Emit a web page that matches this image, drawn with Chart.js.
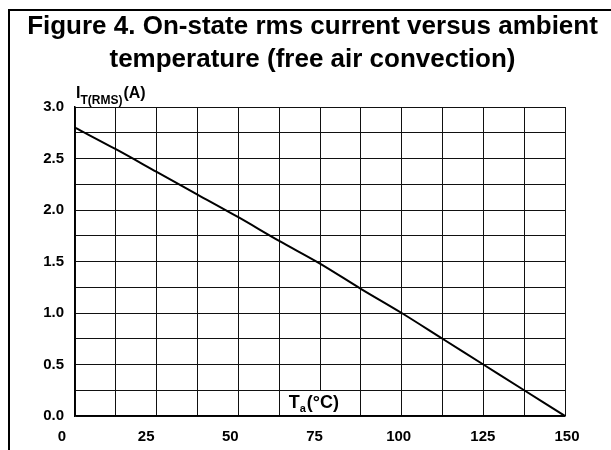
<!DOCTYPE html>
<html>
<head>
<meta charset="utf-8">
<script src="https://cdn.jsdelivr.net/npm/chart.js@4/dist/chart.umd.min.js"></script>
<style>
  html, body { margin: 0; padding: 0; background: #fff; }
  #wrap { width: 611px; height: 450px; }
</style>
</head>
<body>
<div id="wrap"><canvas id="chart" width="611" height="450"></canvas></div>
<script>
// values
const temps = [0, 12.5, 25, 37.5, 50, 62.5, 75, 87.5, 100, 112.5, 125, 137.5, 150];
const currents = [2.80, 2.59, 2.37, 2.15, 1.93, 1.70, 1.48, 1.235, 1.0, 0.75, 0.5, 0.25, 0.0];
const xTickLabels = [0, 25, 50, 75, 100, 125, 150];
const yTickLabels = [0, 0.5, 1.0, 1.5, 2.0, 2.5, 3.0];
const titleLines = ['Figure 4. On-state rms current versus ambient', 'temperature (free air convection)'];

const FONT = "'Liberation Sans', Arial, sans-serif";

// frame + axis titles (with subscripts)
const decorations = {
    id: 'decorations',
    afterDraw(chart) {
        const ctx = chart.ctx;
        const area = chart.chartArea;
        ctx.save();

        // frame (top and left only)
        ctx.strokeStyle = '#000';
        ctx.lineWidth = 2;
        ctx.beginPath();
        ctx.moveTo(9, 450);
        ctx.lineTo(9, 10);
        ctx.lineTo(611, 10);
        ctx.stroke();

        ctx.fillStyle = '#000';
        ctx.textBaseline = 'alphabetic';
        ctx.textAlign = 'left';

        // I_T(RMS)(A)
        let x = area.left + 1;
        let base = area.top - 9;
        ctx.font = `bold 16px ${FONT}`;
        ctx.fillText('I', x, base);
        x += ctx.measureText('I').width;
        ctx.font = `bold 12px ${FONT}`;
        ctx.fillText('T(RMS)', x, base + 6);
        x += ctx.measureText('T(RMS)').width + 1;
        ctx.font = `bold 16px ${FONT}`;
        ctx.fillText('(A)', x, base);

        // T_a(°C) on a white box
        const bx = chart.scales.x.getPixelForValue(64.5);
        const by = area.bottom - 25;
        ctx.fillStyle = '#fff';
        ctx.fillRect(bx, by, 56, 24);
        ctx.fillStyle = '#000';
        let tx = bx + 3;
        const tb = area.bottom - 8;
        ctx.font = `bold 18px ${FONT}`;
        ctx.fillText('T', tx, tb);
        tx += ctx.measureText('T').width;
        ctx.font = `bold 11px ${FONT}`;
        ctx.fillText('a', tx, tb + 4);
        tx += ctx.measureText('a').width + 1;
        ctx.font = `bold 18px ${FONT}`;
        ctx.fillText('(°C)', tx, tb);

        ctx.restore();
    }
};

new Chart(document.getElementById('chart'), {
    type: 'line',
    data: {
        datasets: [{
            data: temps.map((t, i) => ({ x: t, y: currents[i] })),
            borderColor: '#000',
            borderWidth: 2,
            pointRadius: 0,
            fill: false,
            cubicInterpolationMode: 'monotone'
        }]
    },
    options: {
        responsive: false,
        animation: false,
        layout: { padding: { left: 14, right: 0, top: 0, bottom: 0 } },
        plugins: {
            legend: { display: false },
            tooltip: { enabled: false },
            title: {
                display: true,
                text: titleLines,
                color: '#000',
                font: { family: FONT, size: 26, weight: 'bold', lineHeight: '33px' },
                padding: { top: 10, bottom: 31 }
            }
        },
        scales: {
            x: {
                type: 'linear',
                min: 0,
                max: 150,
                weight: 0,
                ticks: { display: false, stepSize: 12.5, autoSkip: false },
                grid: { color: '#111', lineWidth: 1, drawTicks: false },
                border: { color: '#000', width: 1.5 },
                afterFit(s) { s.height = 0; }
            },
            xLabels: {
                type: 'linear',
                position: 'bottom',
                weight: 1,
                // label row is spread slightly wider than the grid, as in the original
                min: 3.861,
                max: 149.406,
                afterBuildTicks(s) { s.ticks = xTickLabels.map(v => ({ value: v })); },
                ticks: {
                    autoSkip: false,
                    maxRotation: 0,
                    padding: 12,
                    color: '#000',
                    font: { family: FONT, size: 15, weight: 'bold' },
                    callback: v => String(v)
                },
                grid: { display: false, drawTicks: false },
                border: { display: false },
                afterFit(s) { s.height = 34; }
            },
            y: {
                type: 'linear',
                min: 0,
                max: 3,
                ticks: {
                    stepSize: 0.25,
                    autoSkip: false,
                    padding: 11,
                    color: '#000',
                    font: { family: FONT, size: 15, weight: 'bold' },
                    callback: v => yTickLabels.some(t => Math.abs(t - v) < 1e-6) ? v.toFixed(1) : ''
                },
                grid: { color: '#111', lineWidth: 1, drawTicks: false },
                border: { color: '#000', width: 1.5 },
                afterFit(s) { s.width = 61; }
            },
            yRight: {
                type: 'linear',
                position: 'right',
                min: 0,
                max: 3,
                ticks: { display: false },
                grid: { display: false, drawTicks: false },
                border: { display: false },
                afterFit(s) { s.width = 46; }
            }
        }
    },
    plugins: [decorations]
});
</script>
</body>
</html>
